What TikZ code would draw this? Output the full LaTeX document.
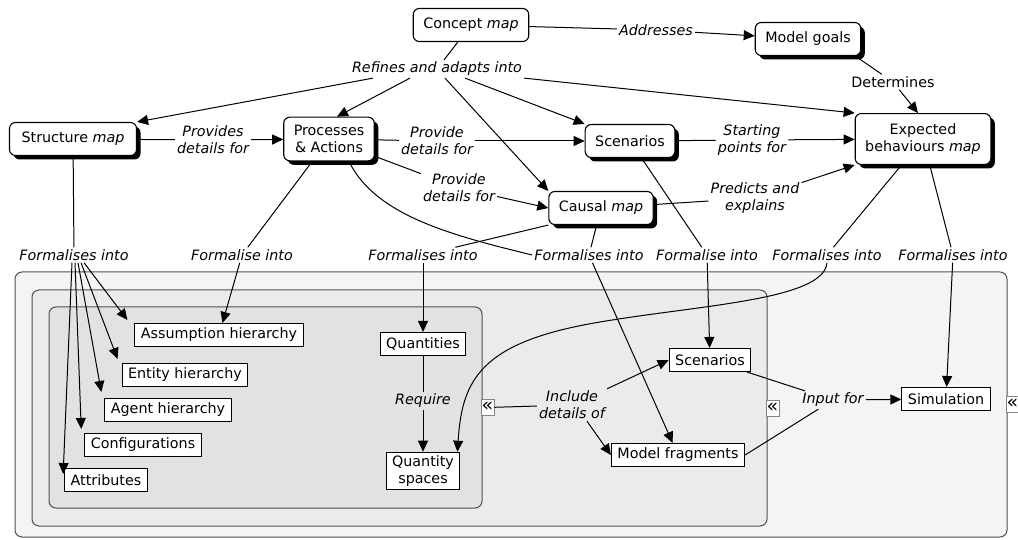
\documentclass[tikz,border=0pt]{standalone}
\usepackage{fontspec}
\setmainfont{DejaVu Sans}
\usepackage{tikz}
\usetikzlibrary{arrows.meta,%
                shadows}

\definecolor{outerfill}{RGB}{244,244,244}
\definecolor{midfill}{RGB}{235,235,235}
\definecolor{innerfill}{RGB}{226,226,226}
\definecolor{frame}{RGB}{80,80,80}

\tikzset{
  concept/.style={draw, rounded corners=6pt, fill=white, line width=1.1pt,
    inner xsep=10pt, inner ysep=8pt, minimum height=33pt, align=center,
    font=\fontsize{14.3}{17}\selectfont},
  castshadow/.style={drop shadow={shadow xshift=4pt, shadow yshift=-4pt,
    fill=black, opacity=1}},
  term/.style={draw, fill=white, line width=1.1pt, inner xsep=6pt,
    minimum height=23pt, align=center, font=\fontsize{14.3}{17}\selectfont},
  phrase/.style={inner sep=2pt, align=center,
    font=\fontsize{14.3}{17}\selectfont\itshape},
  cont/.style={draw=frame, rounded corners=7pt, line width=1pt},
  marker/.style={draw=frame!70, fill=white, line width=0.8pt, inner sep=0pt,
    minimum width=13pt, minimum height=16pt, text height=8pt, text depth=0pt,
    font=\fontsize{19}{19}\selectfont},
  link/.style={line width=1pt},
  arr/.style={link, -{Triangle[length=11pt,width=10pt]}}
}

\begin{document}
\begin{tikzpicture}[x=1pt, y=-1pt]
\useasboundingbox (0,0) rectangle (1018,540);

\node[cont, fill=outerfill, minimum width=992pt, minimum height=265pt] (outer) at (511,404.5) {};
\node[cont, fill=midfill, minimum width=735pt, minimum height=236pt] (middle) at (399.5,408) {};
\node[cont, fill=innerfill, minimum width=433pt, minimum height=201pt] (inner) at (265.5,407.5) {};
\node[marker, anchor=west] (outermk) at ([xshift=-2pt]outer.east) {«};
\node[marker, anchor=west] (middlemk) at ([xshift=-2pt]middle.east) {«};
\node[marker, anchor=west] (innermk) at ([xshift=-2pt]inner.east) {«};

\node[concept] (cmap) at (471,25) {Concept \textit{map}};
\node[concept, castshadow] (goals) at (808,39) {Model goals};
\node[phrase] (addr) at (656,30) {Addresses};
\draw[link] (cmap) -- (addr);
\draw[arr] (addr) -- (goals);

\node[concept, castshadow, minimum width=127pt] (strmap) at (73,139) {Structure \textit{map}};
\node[concept, castshadow] (proc) at (329,139) {Processes\\\& Actions};
\node[concept, castshadow] (scen) at (630,141) {Scenarios};
\node[concept, castshadow] (causal) at (601,208) {Causal \textit{map}};
\node[concept, castshadow, inner ysep=10pt] (expbeh) at (923,139) {Expected\\behaviours \textit{map}};

\node[phrase] (refine) at (437,69) {Refines and adapts into};
\draw[link] (cmap) -- (refine);
\draw[arr] ([xshift=-64pt]refine.south) -- (strmap.north east);
\draw[arr] ([xshift=-27pt]refine.south) -- ([xshift=8pt]proc.north);
\draw[arr] ([xshift=8pt]refine.south) -- (causal.north west);
\draw[arr] ([xshift=28pt]refine.south) -- (scen.north west);
\draw[arr] (refine.south east) -- (expbeh.north west);

\node[phrase, font=\fontsize{14.3}{17}\selectfont] (determ) at (893,82) {Determines};
\draw[link] ([xshift=-6pt]goals.south east) -- (determ);
\draw[arr] (determ) -- ([xshift=-5pt]expbeh.north);

\node[phrase] (pdf1) at (213,140) {Provides\\details for};
\draw[link] (strmap) -- (pdf1);
\draw[arr] (pdf1) -- (proc);

\node[phrase] (pdf2) at (437,141) {Provide\\details for};
\draw[link] (proc) -- (pdf2);
\draw[arr] (pdf2) -- (scen);

\node[phrase] (pdf3) at (459,188) {Provide\\details for};
\draw[link] (proc) -- (pdf3);
\draw[arr] (pdf3) -- (causal.west);

\node[phrase] (start) at (752,140) {Starting\\points for};
\draw[link] (scen) -- (start);
\draw[arr] (start) -- (expbeh);

\node[phrase] (predict) at (755,198) {Predicts and\\explains};
\draw[link] (causal) -- (predict);
\draw[arr] (predict) -- (expbeh.south west);

\node[term] (assum) at (219,335) {Assumption hierarchy};
\node[term] (entity) at (185,375) {Entity hierarchy};
\node[term] (agent) at (168,410) {Agent hierarchy};
\node[term] (config) at (143,445) {Configurations};
\node[term] (attrib) at (106,480) {Attributes};
\node[term] (quant) at (423,344) {Quantities};
\node[term] (qspace) at (423,471) {Quantity\\spaces};
\node[term] (scen2) at (710,360) {Scenarios};
\node[term] (mfrag) at (678,455) {Model fragments};
\node[term] (sim) at (946,399) {Simulation};

\node[phrase] (fml1) at (74,255) {Formalises into};
\draw[link] (strmap) -- (fml1);
\draw[arr] ([xshift=-2pt]fml1.south) -- ([xshift=-1pt,yshift=-6pt]attrib.north west);
\draw[arr] ([xshift=1pt]fml1.south) -- ([xshift=-3pt,yshift=4pt]config.north west);
\draw[arr] ([xshift=4pt]fml1.south) -- ([xshift=-3pt,yshift=6pt]agent.north west);
\draw[arr] ([xshift=7pt]fml1.south) -- ([xshift=-4pt,yshift=4pt]entity.north west);
\draw[arr] ([xshift=10pt]fml1.south) -- ([xshift=-7pt,yshift=3pt]assum.north west);

\node[phrase] (fml2) at (242,255) {Formalise into};
\draw[link] (proc) -- (fml2);
\draw[arr] (fml2) -- (assum);

\node[phrase] (fml3) at (423,255) {Formalises into};
\draw[link] (causal.south west) -- (fml3);
\draw[arr] (fml3) -- (quant);

\node[phrase] (fml4) at (589,255) {Formalises into};
\draw[link] ([xshift=20pt]proc.south) .. controls (375,215) and (450,235) .. (fml4.west);
\draw[link] (causal) -- (fml4);
\draw[arr] (fml4) -- (mfrag);

\node[phrase] (fml5) at (707,255) {Formalise into};
\draw[link] (scen) -- (fml5);
\draw[arr] (fml5) -- (scen2);

\node[phrase] (fml6) at (827,255) {Formalises into};
\draw[link] (expbeh) -- (fml6);
\draw[arr] (fml6.south) .. controls (824,300) and (700,305) .. (600,322)
  .. controls (480,342) and (462,380) .. ([xshift=-3pt]qspace.north east);

\node[phrase] (fml7) at (953,255) {Formalises into};
\draw[link] (expbeh) -- (fml7);
\draw[arr] (fml7) -- (sim);

\node[phrase] (require) at (423,401) {Require};
\draw[link] (quant) -- (require);
\draw[arr] (require) -- (qspace);

\node[phrase] (incl) at (572,405) {Include\\details of};
\draw[link] (innermk) -- (incl);
\draw[arr] (incl.north east) -- (scen2.west);
\draw[arr] ([xshift=15pt]incl.south) -- (mfrag.west);

\node[phrase] (input) at (833,400) {Input for};
\draw[link] (scen2) -- (input);
\draw[link] (mfrag.east) -- (input);
\draw[arr] (input) -- (sim);

\end{tikzpicture}
\end{document}
